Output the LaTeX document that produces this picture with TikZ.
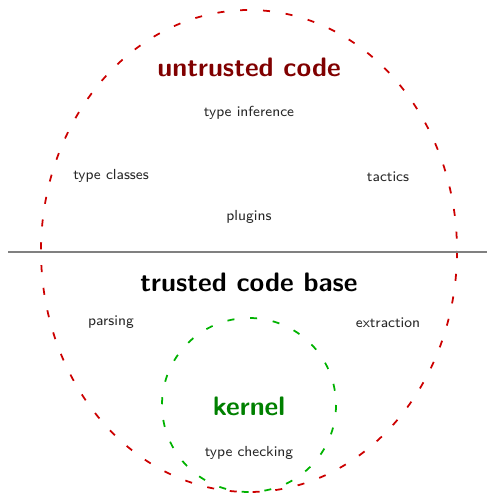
\documentclass[tikz,border=0pt]{standalone}
\usepackage[dvipsnames]{xcolor}
\usetikzlibrary{positioning}
\definecolor{untrustred}{RGB}{128,0,0}
\definecolor{kernelgreen}{RGB}{0,128,0}

\begin{document}
\begin{tikzpicture}[
x=0.02cm, y=-0.02cm,
region/.style={dash pattern=on 4pt off 9pt, line width=1pt},
title/.style={font=\sffamily\bfseries\fontsize{15.2}{18}\selectfont},
item/.style={font=\sffamily\fontsize{8.3}{10}\selectfont, text=black!85}
]
\useasboundingbox (0,0) rectangle (487,499);
% regions
\draw[region, red!80!black] (249,251) ellipse [x radius=208, y radius=241];
\draw[region, green!70!black] (249,405) circle [radius=87];
\coordinate (cutL) at (8,252);
\coordinate (cutR) at (487,252);
\draw[line width=1pt, gray] (cutL) -- (cutR);
% untrusted part
\node[title, text=untrustred] (untrusted) at (249,67) {untrusted code};
\node[item] (inference) at (249,113) {type inference};
\node[item] (classes) at (111,176) {type classes};
\node[item] (tactics) at (388,177) {tactics};
\node[item] (plugins) at (249,217) {plugins};
% trusted part
\node[title] (tcb) at (249,282) {trusted code base};
\node[item] (parsing) at (111,322) {parsing};
\node[item] (extraction) at (388,323) {extraction};
\node[title, text=kernelgreen] (kernel) at (249,406) {kernel};
\node[item] (checking) at (249,453) {type checking};
\end{tikzpicture}
\end{document}
